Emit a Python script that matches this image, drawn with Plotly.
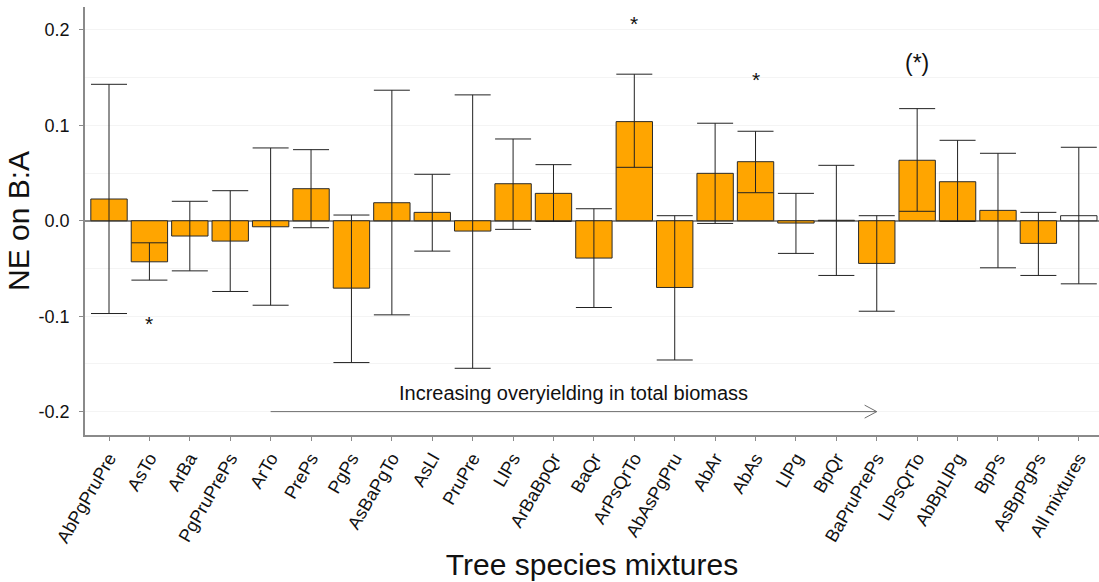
import plotly.graph_objects as go

categories = ["AbPgPruPre", "AsTo", "ArBa", "PgPruPrePs", "ArTo", "PrePs", "PgPs",
              "AsBaPgTo", "AsLl", "PruPre", "LlPs", "ArBaBpQr", "BaQr", "ArPsQrTo",
              "AbAsPgPru", "AbAr", "AbAs", "LlPg", "BpQr", "BaPruPrePs", "LlPsQrTo",
              "AbBpLlPg", "BpPs", "AsBpPgPs", "All mixtures"]
ne_mean = [0.0228, -0.0430, -0.0160, -0.0213, -0.0063, 0.0336, -0.0706,
           0.0189, 0.0088, -0.0108, 0.0388, 0.0287, -0.0391, 0.1039,
           -0.0699, 0.0497, 0.0619, -0.0024, 0.0005, -0.0447, 0.0634,
           0.0409, 0.0109, -0.0237, 0.0053]
ci_upper = [0.143, -0.0231, 0.0204, 0.0315, 0.0763, 0.0745, 0.0060,
            0.1368, 0.0487, 0.1319, 0.0857, 0.0588, 0.0126, 0.1536,
            0.0053, 0.1022, 0.0938, 0.0287, 0.0581, 0.0053, 0.1175,
            0.0843, 0.0707, 0.0088, 0.0770]
ci_lower = [-0.0972, -0.0622, -0.0525, -0.0741, -0.0885, -0.0073, -0.1486,
            -0.0986, -0.0318, -0.1546, -0.0090, -0.0007, -0.0909, 0.0560,
            -0.1459, -0.0028, 0.0294, -0.0342, -0.0573, -0.0948, 0.0099,
            -0.0007, -0.0493, -0.0573, -0.0661]
bar_fill = ["#FFA500"] * 24 + ["#FFFFFF"]

sig_labels = ["*", "*", "*", "(*)"]
sig_cats = ["AsTo", "ArPsQrTo", "AbAs", "LlPsQrTo"]
sig_y = [-0.1077, 0.2065, 0.148, 0.165]
sig_size = [21, 21, 21, 23]

ytick_vals = [-0.2, -0.1, 0.0, 0.1, 0.2]
ytick_text = ["-0.2", "-0.1", "0.0", "0.1", "0.2"]

arrow_text = "Increasing overyielding in total biomass"
arrow_from, arrow_to, arrow_y = 4, 19, -0.2

FONT = "Liberation Sans, Arial, sans-serif"

fig = go.Figure()
fig.add_trace(go.Bar(
    x=categories, y=ne_mean, width=0.9,
    marker=dict(color=bar_fill, line=dict(color="#2a2a2a", width=1)),
    error_y=dict(type="data", symmetric=False,
                 array=[u - m for u, m in zip(ci_upper, ne_mean)],
                 arrayminus=[m - l for m, l in zip(ne_mean, ci_lower)],
                 width=18, thickness=1, color="#222222"),
    hoverinfo="skip", showlegend=False,
))

for lab, c, yv, s in zip(sig_labels, sig_cats, sig_y, sig_size):
    fig.add_annotation(x=c, y=yv, text=lab, showarrow=False,
                       font=dict(size=s, color="#111111", family=FONT))

# arrow
fig.add_shape(type="line", x0=arrow_from, x1=arrow_to, y0=arrow_y, y1=arrow_y,
              line=dict(color="#6e6e6e", width=1))
fig.add_shape(type="line", x0=arrow_to - 0.3, x1=arrow_to, y0=arrow_y + 0.0068, y1=arrow_y,
              line=dict(color="#6e6e6e", width=1))
fig.add_shape(type="line", x0=arrow_to - 0.3, x1=arrow_to, y0=arrow_y - 0.0068, y1=arrow_y,
              line=dict(color="#6e6e6e", width=1))
fig.add_annotation(x=(arrow_from + arrow_to) / 2, y=-0.1808, text=arrow_text,
                   showarrow=False, font=dict(size=20, color="#111111", family=FONT))

fig.update_layout(
    width=1099, height=582,
    margin=dict(l=85, r=0, t=7, b=147),
    plot_bgcolor="white", paper_bgcolor="white",
    font=dict(family=FONT, color="#111111"),
    bargap=0.1,
)
fig.update_xaxes(
    type="category", range=[-0.594, 24.5],
    showline=True, linecolor="#8a8a8a", linewidth=1.5,
    ticks="outside", ticklen=4, tickcolor="#8a8a8a",
    tickangle=-60, tickfont=dict(size=18, color="#111111"),
    showgrid=False, zeroline=False,
    title=dict(text="Tree species mixtures", font=dict(size=30, color="#111111"), standoff=8),
    automargin=False,
)
fig.update_yaxes(
    range=[-0.2245, 0.224],
    tickvals=ytick_vals, ticktext=ytick_text,
    showline=True, linecolor="#8a8a8a", linewidth=1.5,
    ticks="outside", ticklen=4, tickcolor="#8a8a8a",
    tickfont=dict(size=18, color="#111111"), ticklabelstandoff=6,
    showgrid=False,
    minor=dict(dtick=0.05, tick0=0, showgrid=True, gridcolor="#f4f4f4", gridwidth=1, ticks=""),
    zeroline=True, zerolinecolor="#8a8a8a", zerolinewidth=1.5,
    title=dict(text="NE on B:A", font=dict(size=30, color="#111111"), standoff=0),
    automargin=False,
)

fig.write_html("out.html", config={"displayModeBar": False},
               post_script="document.body.style.margin='0';document.body.style.overflow='hidden';")
